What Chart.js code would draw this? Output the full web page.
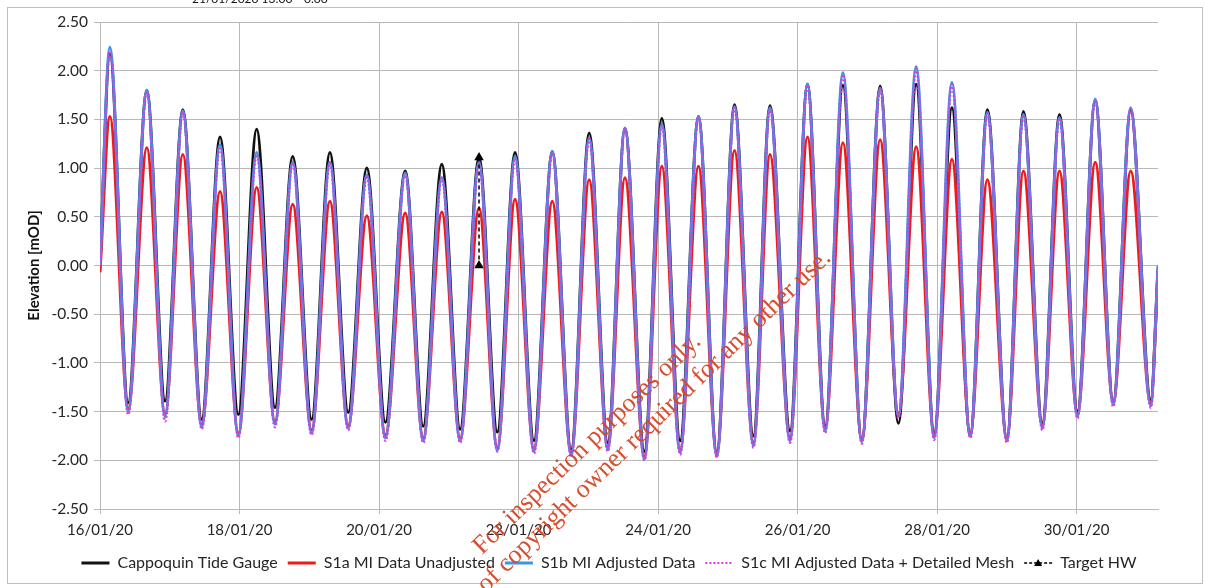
<!DOCTYPE html>
<html>
<head>
<meta charset="utf-8">
<title>Cappoquin tide levels</title>
<script src="https://cdn.jsdelivr.net/npm/chart.js@4.4.0/dist/chart.umd.min.js"></script>
<style>
  html, body { margin: 0; padding: 0; background: #fff; }
  #wrap { width: 1205px; height: 588px; }
</style>
</head>
<body>
<div id="wrap"><canvas id="tideChart" width="1205" height="588"></canvas></div>
<script>
// x values are hours after 16/01/20 00:00 (start, then HW / LW turning points, then end)
const xTickLabels = ['16/01/20', '18/01/20', '20/01/20', '22/01/20', '24/01/20', '26/01/20', '28/01/20', '30/01/20'];

const tideHours = [0, 3.4, 9.7, 16.1, 22.4, 28.5, 35.0, 41.3, 47.6, 53.9, 60.2, 66.3, 72.8, 79.1, 85.4,
  91.8, 98.2, 105.0, 111.2, 117.6, 123.9, 130.4, 136.7, 142.8, 149.3, 155.6, 162.1, 168.3, 174.7,
  180.6, 187.3, 193.3, 199.6, 205.9, 212.2, 218.3, 224.8, 230.5, 237.4, 243.4, 249.5, 255.6, 262.1,
  268.4, 274.7, 280.8, 287.0, 293.1, 299.4, 305.3, 312.0, 317.7, 324.2, 330.1, 336.3, 342.4, 348.6,
  354.6, 361.5, 364.0];

const gaugeLevels = [0.00, 2.18, -1.41, 1.80, -1.39, 1.60, -1.58, 1.32, -1.53, 1.40, -1.46, 1.12, -1.58,
  1.16, -1.51, 1.00, -1.61, 0.97, -1.65, 1.04, -1.68, 1.11, -1.71, 1.16, -1.80, 1.17, -1.89, 1.36, -1.82,
  1.41, -1.91, 1.51, -1.80, 1.53, -1.92, 1.65, -1.75, 1.64, -1.70, 1.86, -1.65, 1.85, -1.80, 1.84, -1.62,
  1.86, -1.72, 1.62, -1.75, 1.60, -1.78, 1.58, -1.62, 1.55, -1.50, 1.70, -1.40, 1.60, -1.38, -0.05];

const s1aLevels = [-0.07, 1.53, -1.47, 1.21, -1.52, 1.14, -1.63, 0.76, -1.72, 0.80, -1.60, 0.63, -1.69,
  0.66, -1.64, 0.51, -1.74, 0.54, -1.77, 0.55, -1.77, 0.59, -1.87, 0.68, -1.88, 0.66, -1.92, 0.88, -1.86,
  0.90, -1.96, 1.02, -1.89, 1.02, -1.93, 1.18, -1.82, 1.14, -1.77, 1.32, -1.67, 1.26, -1.78, 1.29, -1.52,
  1.22, -1.74, 1.09, -1.72, 0.88, -1.77, 0.97, -1.64, 0.97, -1.52, 1.06, -1.40, 0.97, -1.41, -0.05];

const s1bLevels = [0.00, 2.24, -1.50, 1.80, -1.55, 1.59, -1.66, 1.24, -1.75, 1.16, -1.63, 1.06, -1.72,
  1.06, -1.67, 0.93, -1.77, 0.95, -1.80, 0.90, -1.80, 1.06, -1.90, 1.12, -1.91, 1.17, -1.95, 1.31, -1.89,
  1.41, -1.99, 1.45, -1.92, 1.53, -1.96, 1.63, -1.85, 1.62, -1.80, 1.86, -1.70, 1.98, -1.81, 1.82, -1.55,
  2.04, -1.77, 1.88, -1.75, 1.57, -1.80, 1.55, -1.67, 1.52, -1.55, 1.71, -1.43, 1.62, -1.44, 0.00];

const s1cLevels = [0.00, 2.20, -1.53, 1.78, -1.60, 1.57, -1.68, 1.22, -1.77, 1.14, -1.66, 1.05, -1.74,
  1.05, -1.69, 0.92, -1.80, 0.94, -1.82, 0.90, -1.82, 1.05, -1.91, 1.10, -1.93, 1.16, -1.96, 1.30, -1.91,
  1.40, -2.00, 1.44, -1.94, 1.52, -1.97, 1.62, -1.87, 1.61, -1.82, 1.85, -1.72, 1.96, -1.83, 1.81, -1.57,
  2.02, -1.79, 1.86, -1.77, 1.56, -1.82, 1.54, -1.69, 1.51, -1.57, 1.70, -1.45, 1.61, -1.46, 0.00];

const targetHours = [130.4, 130.4];
const targetLevels = [1.11, 0.00];

function toPoints(hours, levels) {
  return hours.map((h, i) => ({ x: h, y: levels[i] }));
}

Chart.defaults.font.family = 'Lato, "Open Sans", sans-serif';
Chart.defaults.color = '#262626';

const tideLine = {
  fill: false,
  pointRadius: 0,
  pointHoverRadius: 0,
  cubicInterpolationMode: 'monotone'
};

// border, watermark, cut-off header text, triangle in the Target HW legend entry
const extras = {
  id: 'extras',
  afterLayout(chart) {
    // legend sits a little right of the plot centre in the original
    chart.legend.left += 26;
    chart.legend.right += 26;
  },
  afterDraw(chart) {
    const c = chart.ctx;
    c.save();
    c.strokeStyle = '#bfbfbf';
    c.lineWidth = 1;
    c.strokeRect(7.5, 7.5, 1195, 576);

    c.fillStyle = '#111';
    c.font = '12px Lato, sans-serif';
    c.textBaseline = 'alphabetic';
    c.fillText('21/01/2020 13:00', 192, 3);
    c.fillText('0.00', 304, 3);

    const boxes = chart.legend.legendHitBoxes;
    if (boxes && boxes[4]) {
      const b = boxes[4];
      const cx = b.left + 14, cy = b.top + 8;
      c.fillStyle = '#000';
      c.beginPath();
      c.moveTo(cx, cy - 4);
      c.lineTo(cx + 4, cy + 3);
      c.lineTo(cx - 4, cy + 3);
      c.closePath();
      c.fill();
    }

    c.fillStyle = 'rgba(214, 70, 36, 0.95)';
    c.font = '26px "Liberation Serif", serif';
    c.textAlign = 'center';
    const ang = -44 * Math.PI / 180;
    c.save();
    c.translate(592, 449);
    c.rotate(ang);
    c.fillText('For inspection purposes only.', 0, 0);
    c.restore();
    c.save();
    c.translate(626, 458);
    c.rotate(ang);
    c.fillText('Consent of copyright owner required for any other use.', 0, 0);
    c.restore();
    c.restore();
  }
};

new Chart(document.getElementById('tideChart'), {
  type: 'line',
  data: {
    datasets: [
      { ...tideLine, label: 'Cappoquin Tide Gauge', data: toPoints(tideHours, gaugeLevels),
        borderColor: '#111111', backgroundColor: '#111111', borderWidth: 3, order: 5 },
      { ...tideLine, label: 'S1a MI Data Unadjusted', data: toPoints(tideHours, s1aLevels),
        borderColor: '#f01a1a', backgroundColor: '#f01a1a', borderWidth: 3, order: 4 },
      { ...tideLine, label: 'S1b MI Adjusted Data', data: toPoints(tideHours, s1bLevels),
        borderColor: '#3d96e4', backgroundColor: '#3d96e4', borderWidth: 3, order: 3 },
      { ...tideLine, label: 'S1c MI Adjusted Data + Detailed Mesh', data: toPoints(tideHours, s1cLevels),
        borderColor: '#d63ee0', backgroundColor: '#d63ee0', borderWidth: 2.5, borderDash: [2, 2], order: 2 },
      { label: 'Target HW', data: toPoints(targetHours, targetLevels), fill: false,
        borderColor: '#000', backgroundColor: '#000', borderWidth: 1.5, borderDash: [4, 3],
        pointStyle: 'triangle', pointRadius: 4, order: 1 }
    ]
  },
  options: {
    responsive: false,
    animation: false,
    events: [],
    layout: { padding: { left: 8, top: 22, right: 47, bottom: 7 } },
    scales: {
      x: {
        type: 'linear',
        min: 0,
        max: 364,
        afterFit: (s) => { s.height = 36; },
        grid: { color: '#b8b8b8', tickLength: 5 },
        border: { color: '#b8b8b8' },
        ticks: {
          stepSize: 48,
          includeBounds: false,
          maxRotation: 0,
          padding: 7,
          font: { size: 15 },
          callback: (v) => xTickLabels[v / 48] || ''
        }
      },
      y: {
        min: -2.5,
        max: 2.5,
        afterFit: (s) => { s.width = 92; },
        grid: { color: '#b8b8b8', tickLength: 6 },
        border: { color: '#b8b8b8' },
        title: { display: true, text: 'Elevation [mOD]', font: { size: 15, weight: 'bold' },
          color: '#111', padding: { top: 17, bottom: 0 } },
        ticks: {
          stepSize: 0.5,
          padding: 6,
          font: { size: 15.5 },
          callback: (v) => v.toFixed(2)
        }
      }
    },
    plugins: {
      tooltip: { enabled: false },
      legend: {
        position: 'bottom',
        labels: {
          usePointStyle: true,
          pointStyleWidth: 28,
          padding: 10,
          font: { size: 16 },
          color: '#262626',
          sort: (a, b) => a.datasetIndex - b.datasetIndex,
          generateLabels: (chart) => {
            const items = Chart.defaults.plugins.legend.labels.generateLabels(chart);
            return items.map((it) => {
              const out = { ...it, pointStyle: 'line' };
              if (it.datasetIndex === 3) { out.lineDash = [2, 2]; out.lineWidth = 2; }
              if (it.datasetIndex === 4) { out.lineDash = [3, 2]; out.lineWidth = 1.5; }
              return out;
            });
          }
        }
      }
    }
  },
  plugins: [extras]
});
</script>
</body>
</html>
